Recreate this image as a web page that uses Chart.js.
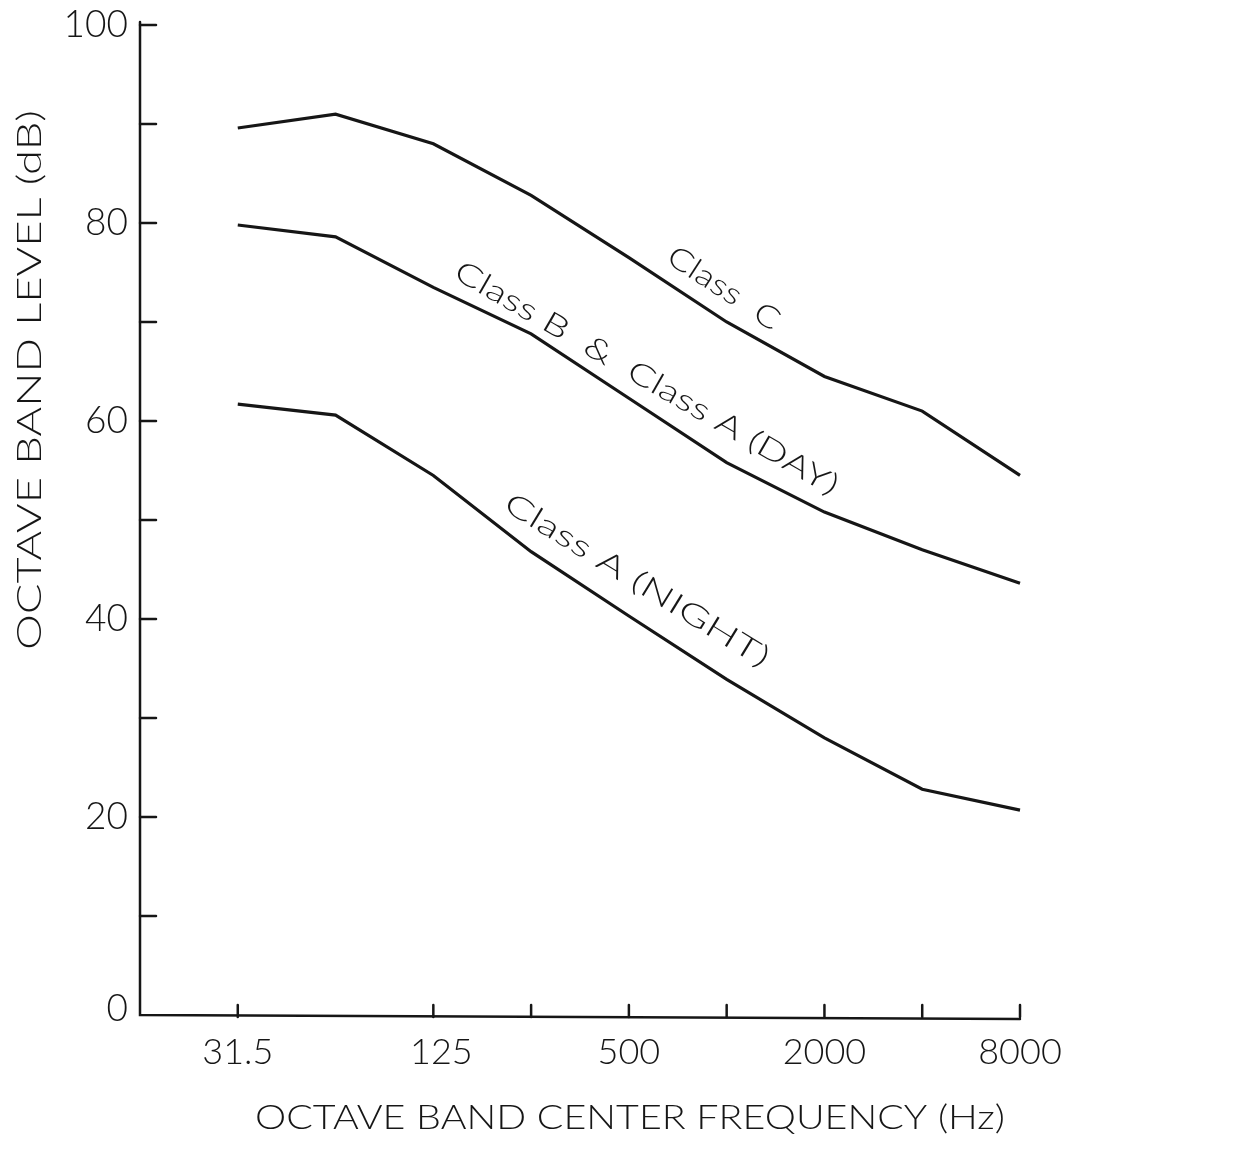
<!DOCTYPE html>
<html>
<head>
<meta charset="utf-8">
<script src="https://cdn.jsdelivr.net/npm/chart.js@4.4.1/dist/chart.umd.min.js"></script>
<style>
  html, body { margin: 0; padding: 0; background: #fff; }
</style>
</head>
<body>
<canvas id="chart" width="1234" height="1157"></canvas>
<script>
// Octave band centre frequencies (Hz), one per octave
const bands = ['31.5', '63', '125', '250', '500', '1000', '2000', '4000', '8000'];
// Bands that get a tick mark / a label on the hand drawn axis
const tickedBands = ['31.5', '125', '250', '500', '1000', '2000', '4000', '8000'];
const labelledBands = ['31.5', '125', '500', '2000', '8000'];

// Octave band levels (dB)
const classC = [89.6, 91.0, 88.0, 82.8, 76.5, 70.0, 64.5, 61.0, 54.5];
const classBDay = [79.8, 78.6, 73.5, 68.8, 62.3, 55.8, 50.8, 47.0, 43.6];
const classANight = [61.7, 60.6, 54.5, 46.8, 40.3, 33.9, 28.0, 22.8, 20.7];

// Y axis ticks and labels
const yTicks = [10, 20, 30, 40, 50, 60, 70, 80, 90, 100];
const yLabels = [0, 20, 40, 60, 80, 100];

// Curve captions: [text, band position, level, angle in degrees, length px]
const captions = [
    ['Class  C', 4.97, 73.4, 33, 128],
    ['Class B  &  Class A (DAY)', 4.18, 64.3, 30, 438],
    ['Class A (NIGHT)', 4.08, 43.9, 31.5, 305]
];

const ink = '#161616';
const font = 'Lato, "Open Sans", "DejaVu Sans", sans-serif';

function toPoints(values) {
    return values.map((v, i) => ({ x: i, y: v }));
}

// Draw a text squeezed or stretched to a given width
function fitText(ctx, text, cx, cy, width, angle) {
    const w = ctx.measureText(text).width;
    ctx.save();
    ctx.translate(cx, cy);
    ctx.rotate(angle * Math.PI / 180);
    ctx.scale(width / w, 1);
    ctx.textAlign = 'center';
    ctx.textBaseline = 'middle';
    ctx.fillText(text, 0, 0);
    ctx.restore();
}

// Hand drawn style axes: lines, inward ticks, labels and titles
const inkAxes = {
    id: 'inkAxes',
    afterDatasetsDraw(chart) {
        const { ctx, scales: { x, y } } = chart;
        const x0 = x.getPixelForValue(-1);
        const x1 = x.getPixelForValue(8);
        const y0 = y.getPixelForValue(0);
        const y1 = y.getPixelForValue(100);

        ctx.save();
        ctx.strokeStyle = ink;
        ctx.fillStyle = ink;
        ctx.lineWidth = 2.5;
        ctx.lineCap = 'round';

        ctx.beginPath();
        ctx.moveTo(x0, y1 - 3);
        ctx.lineTo(x0, y0);
        ctx.lineTo(x1, y0 + 4);
        ctx.stroke();

        // y ticks pointing into the plot
        yTicks.forEach(v => {
            const py = y.getPixelForValue(v);
            ctx.beginPath();
            ctx.moveTo(x0, py);
            ctx.lineTo(x0 + 16, py);
            ctx.stroke();
        });

        // x ticks pointing up
        tickedBands.forEach(b => {
            const px = x.getPixelForValue(bands.indexOf(b));
            ctx.beginPath();
            ctx.moveTo(px, y0 + 2);
            ctx.lineTo(px, y0 - 10);
            ctx.stroke();
        });

        ctx.font = '300 37px ' + font;
        ctx.textAlign = 'right';
        ctx.textBaseline = 'middle';
        yLabels.forEach(v => {
            ctx.fillText(String(v), x0 - 12, y.getPixelForValue(v) - (v === 0 ? 6 : 0));
        });

        ctx.font = '300 36px ' + font;
        ctx.textAlign = 'center';
        labelledBands.forEach(b => {
            const px = x.getPixelForValue(bands.indexOf(b));
            ctx.fillText(b, px + (b === '125' ? 8 : 0), y0 + 37);
        });

        // axis titles
        ctx.font = '300 34px ' + font;
        fitText(ctx, 'OCTAVE BAND CENTER FREQUENCY (Hz)', 630, 1118, 750, 0);
        fitText(ctx, 'OCTAVE BAND LEVEL (dB)', 30, 380, 540, -90);

        // curve captions
        ctx.font = '300 30px ' + font;
        captions.forEach(([text, bx, lv, ang, len]) => {
            fitText(ctx, text, x.getPixelForValue(bx), y.getPixelForValue(lv), len, ang);
        });
        ctx.restore();
    }
};

const lineStyle = {
    borderColor: ink,
    borderWidth: 3.2,
    pointRadius: 0,
    tension: 0,
    fill: false,
    clip: false
};

new Chart(document.getElementById('chart'), {
    type: 'line',
    data: {
        datasets: [
            { label: 'Class C', data: toPoints(classC), ...lineStyle },
            { label: 'Class B & Class A (Day)', data: toPoints(classBDay), ...lineStyle },
            { label: 'Class A (Night)', data: toPoints(classANight), ...lineStyle }
        ]
    },
    options: {
        responsive: false,
        animation: false,
        layout: { padding: { left: 140, top: 25, right: 214, bottom: 142 } },
        plugins: {
            legend: { display: false },
            tooltip: { enabled: false }
        },
        scales: {
            x: { type: 'linear', min: -1, max: 8, display: false },
            y: { type: 'linear', min: 0, max: 100, display: false }
        }
    },
    plugins: [inkAxes]
});
</script>
</body>
</html>
